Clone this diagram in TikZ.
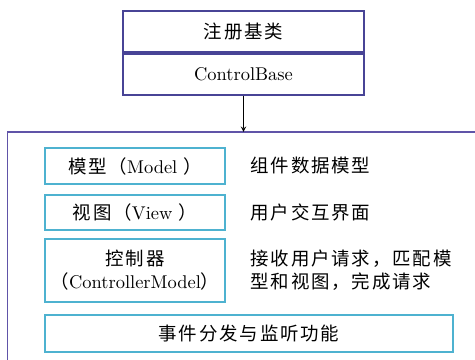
\documentclass[tikz,border=0pt]{standalone}
\usepackage{fontspec}
\newfontfamily\cjk[LetterSpace=10]{Noto Sans CJK SC}
\definecolor{classblue}{RGB}{72,68,150}
\definecolor{framepurple}{RGB}{96,84,168}
\definecolor{partcyan}{RGB}{78,178,208}
\begin{document}
\begin{tikzpicture}[
  cls/.style={draw=classblue, line width=1pt, minimum width=4.82cm, minimum height=0.82cm, inner sep=0pt},
  part/.style={draw=partcyan, line width=1pt, minimum width=3.6cm, align=center, inner sep=0pt},
  desc/.style={anchor=west, align=left, font=\cjk},
  arr/.style={->, >=stealth, thin}
]
\useasboundingbox (0,0) rectangle (9.5,7.2);
\clip (0,0) rectangle (9.5,7.2);
\fontsize{10.5}{13}\selectfont
% registered base class
\node[cls, font=\cjk] (reg) at (4.87,6.57) {注册基类};
\node[cls, anchor=north] (base) at (reg.south) {ControlBase};
% outer frame, cut off at the right and at the bottom
\draw[draw=framepurple, line width=1pt] (0.15,-1) rectangle (10,4.56);
\coordinate (frametop) at (4.87,4.56);
\draw[arr] (base.south) -- (frametop);
% parts
\node[part, minimum height=0.72cm] (model) at (2.7,3.88) {{\cjk 模型（}Model {\cjk ）}};
\node[part, minimum height=0.70cm] (view) at (2.7,2.95) {{\cjk 视图（}View {\cjk ）}};
\node[part, minimum height=1.26cm] (ctrl) at (2.7,1.79) {{\cjk 控制器}\\{\cjk （}ControllerModel{\cjk ）}};
\node[part, minimum width=8.16cm, minimum height=0.74cm, font=\cjk] (event) at (4.98,0.53) {事件分发与监听功能};
% descriptions
\node[desc] (modeldesc) at (4.88,3.88) {组件数据模型};
\node[desc] (viewdesc) at (4.88,2.95) {用户交互界面};
\node[desc] (ctrldesc) at (4.88,1.79) {接收用户请求，匹配模\\型和视图，完成请求};
\end{tikzpicture}
\end{document}
